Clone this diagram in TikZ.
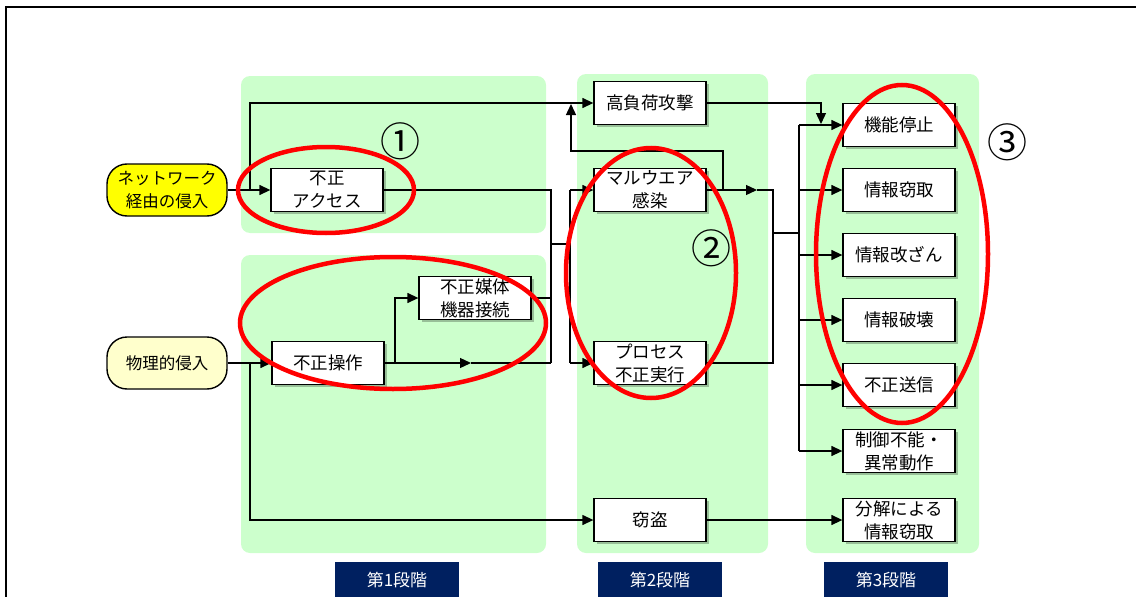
\documentclass[tikz,border=0pt]{standalone}
\usepackage{fontspec}
\setmainfont{Noto Sans CJK JP}
\usetikzlibrary{arrows.meta,shadows}
\definecolor{gbg}{HTML}{CCFFCC}
\definecolor{navy}{HTML}{002060}
\definecolor{yel}{HTML}{FFFF00}
\definecolor{lyel}{HTML}{FFFFCC}
\begin{document}
\begin{tikzpicture}[x=1pt,y=-1pt,
 box/.style={draw, fill=white, line width=1.3pt, minimum width=112pt, minimum height=43pt, inner sep=0pt, align=center, font=\fontsize{17.5}{23}\selectfont, drop shadow={shadow xshift=2.5pt,shadow yshift=-2.5pt,opacity=0.25,fill=black}},
 entry/.style={draw, line width=1.4pt, rounded corners=20pt, minimum width=120pt, minimum height=52pt, inner sep=0pt, align=center, font=\fontsize{16.5}{23}\selectfont},
 zone/.style={fill=gbg, rounded corners=9pt},
 conn/.style={line width=1.3pt},
 arr/.style={conn, -{Triangle[length=11pt,width=10pt]}},
 ring/.style={draw=red, line width=4.5pt},
 stage/.style={fill=navy, text=white, minimum width=124pt, minimum height=36pt, inner sep=0pt, font=\fontsize{17}{20}\selectfont},
 num/.style={inner sep=0pt, font=\fontsize{40}{40}\selectfont}
]
\useasboundingbox (0,0) rectangle (1136,597);
\draw[line width=2pt] (6,598) -- (6,7) -- (1137,7);
% zones
\fill[zone] (241,76) rectangle (546,233);
\fill[zone] (241,255) rectangle (546,553);
\fill[zone] (577,74) rectangle (768,553);
\fill[zone] (806,74) rectangle (979,553);
% connector points
\coordinate (jn) at (250,190);
\coordinate (jnt) at (250,103);
\coordinate (jp) at (250,363);
\coordinate (ba) at (551,190);
\coordinate (bb) at (551,363);
\coordinate (bm) at (551,244);
\coordinate (ca) at (570,190);
\coordinate (cb) at (570,363);
\coordinate (cm) at (570,244);
\coordinate (kb) at (395,363);
\coordinate (mid1) at (471,363);
\coordinate (mid2) at (757,190);
\coordinate (da) at (773,190);
\coordinate (db) at (773,363);
\coordinate (dm) at (773,233);
\coordinate (bus) at (799,233);
\coordinate (bust) at (799,125);
\coordinate (busb) at (799,451);
\coordinate (fb) at (723,190);
\coordinate (fu) at (723,151);
\coordinate (fl) at (571,151);
\coordinate (ft) at (571,104);
\coordinate (ha) at (821,103);
\coordinate (hb) at (821,124);
% nodes
\node[entry, fill=yel] (net) at (167,190) {ネットワーク\\経由の侵入};
\node[entry, fill=lyel] (phy) at (167,363) {物理的侵入};
\node[box] (ua) at (327,190) {不正\\アクセス};
\node[box] (uo) at (328,363) {不正操作};
\node[box] (um) at (475,298) {不正媒体\\機器接続};
\node[box] (hl) at (650,103) {高負荷攻撃};
\node[box] (mw) at (650,190) {マルウエア\\感染};
\node[box] (pr) at (650,363) {プロセス\\不正実行};
\node[box] (th) at (650,520) {窃盗};
\node[box] (s1) at (899,125) {機能停止};
\node[box] (s2) at (899,190) {情報窃取};
\node[box] (s3) at (899,255) {情報改ざん};
\node[box] (s4) at (899,320) {情報破壊};
\node[box] (s5) at (899,385) {不正送信};
\node[box] (s6) at (899,451) {制御不能・\\異常動作};
\node[box] (s7) at (899,520) {分解による\\情報窃取};
% connectors
\draw[arr] (net.east) -- (ua.west);
\draw[arr] (jn) -- (jnt) -- (hl.west);
\draw[conn] (ua.east) -- (ba) -- (bb);
\draw[conn] (um.east) -- (um.east -| bb);
\draw[arr] (uo.east) -- (mid1);
\draw[conn] (mid1) -- (bb);
\draw[arr] (kb) |- (um.west);
\draw[conn] (bm) -- (cm);
\draw[conn] (ca) -- (cb);
\draw[arr] (ca) -- (mw.west);
\draw[arr] (cb) -- (pr.west);
\draw[arr] (phy.east) -- (uo.west);
\draw[arr] (jp) |- (th.west);
\draw[arr] (mw.east) -- (mid2);
\draw[conn] (mid2) -- (da) -- (db) -- (pr.east);
\draw[arr] (fb) -- (fu) -- (fl) -- (ft);
\draw[conn] (dm) -- (bus);
\draw[conn] (bust) -- (busb);
\foreach \s in {s1,s2,s3,s4,s5,s6}{\draw[arr] (bust |- \s.west) -- (\s.west);}
\draw[arr] (hl.east) -- (ha) -- (hb);
\draw[arr] (th.east) -- (s7.west);
% rings
\draw[ring] (326,190) ellipse [x radius=88, y radius=43];
\draw[ring] (393,323) ellipse [x radius=153, y radius=66];
\draw[ring] (651,273) ellipse [x radius=85, y radius=125];
\draw[ring] (902,254) ellipse [x radius=86, y radius=169];
% numbers
\node[num] (n1) at (400,141) {①};
\node[num] (n2) at (711,248) {②};
\node[num] (n3) at (1007,142) {③};
% stage labels
\node[stage] (t1) at (397,580) {第1段階};
\node[stage] (t2) at (660,580) {第2段階};
\node[stage] (t3) at (886,580) {第3段階};
\end{tikzpicture}
\end{document}
